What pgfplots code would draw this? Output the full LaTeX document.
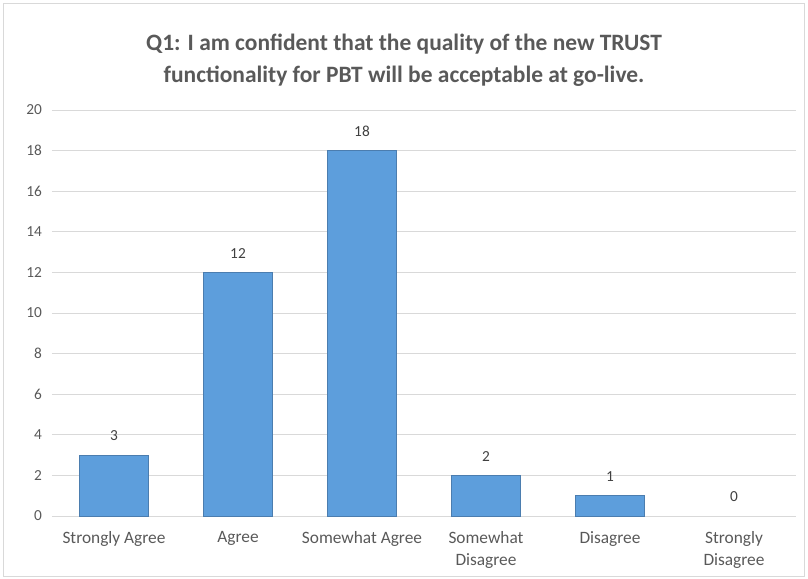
\documentclass[border=0pt]{standalone}
\usepackage{pgfplots}
\pgfplotsset{compat=1.18}
\usepackage{fontspec}
\setmainfont{Carlito}
\definecolor{barblue}{RGB}{93,158,220}
\definecolor{baredge}{RGB}{75,125,175}
\definecolor{gridgray}{RGB}{217,217,217}
\definecolor{txtgray}{RGB}{89,89,89}
\definecolor{lbl}{RGB}{64,64,64}
\begin{document}
\begin{tikzpicture}
\path (0,0) rectangle (606pt,-434.25pt);
\draw[gridgray, line width=0.75pt] (2.6pt,-2.6pt) rectangle (603.5pt,-432pt);
\node[font=\bfseries\fontsize{17.6}{24}\selectfont, text=txtgray, align=center] at (303pt,-45.5pt)
  {Q1: I am confident that the quality of the new TRUST\\functionality for PBT will be acceptable at go-live.};
\begin{axis}[
  at={(39pt,-387pt)}, anchor=south west,
  scale only axis, width=558pt, height=304.5pt,
  ymin=0, ymax=20, ytick={0,2,...,20},
  xmin=-0.5, xmax=5.5, xtick={0,...,5},
  xticklabels={{Strongly Agree},{Agree},{Somewhat Agree},{Somewhat\\Disagree},{Disagree},{Strongly\\Disagree}},
  axis line style={draw=none},
  major tick length=0pt,
  ymajorgrids, grid style={gridgray, line width=0.75pt},
  /pgf/number format/assume math mode=true,
  yticklabel style={font=\fontsize{11.5}{14}\selectfont, text=txtgray, xshift=-4pt},
  xticklabel style={font=\fontsize{13}{16.5}\selectfont, text=txtgray, align=center, yshift=-8pt},
  ybar, bar width=51.75pt, bar shift=0pt,
  nodes near coords,
  nodes near coords style={font=\fontsize{11.5}{14}\selectfont, text=lbl, anchor=south, yshift=7pt},
]
\addplot[fill=barblue, draw=baredge, line width=0.6pt] coordinates {(0,3) (1,12) (2,18) (3,2) (4,1)};
\addplot[fill=none, draw=none] coordinates {(5,0)};
\end{axis}
\end{tikzpicture}
\end{document}
